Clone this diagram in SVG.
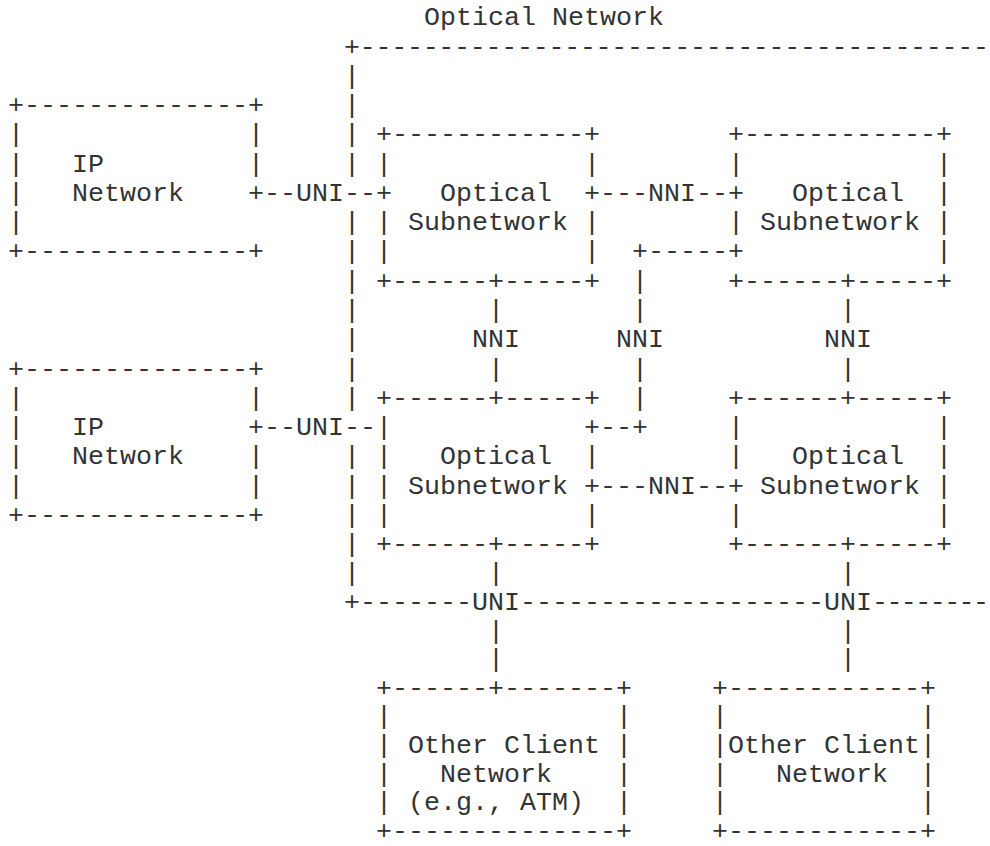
<svg xmlns="http://www.w3.org/2000/svg" width="990" height="846" viewBox="0 0 990 846" xml:space="preserve">
<style>
text { font-family: "Liberation Mono", "Courier New", monospace; font-size: 26.667px; fill: #333; white-space: pre; }
</style>
<rect x="0" y="0" width="990" height="846" fill="#fff"/>
<g id="optical-network">
<text x="424" y="25.4">Optical Network</text>
<text x="344" y="54.66" textLength="645" lengthAdjust="spacing">+----------------------------------------</text>
<text x="344" y="83.92">|</text>
<text x="344" y="113.18">|</text>
<text x="344" y="142.44">|</text>
<text x="344" y="171.7">|</text>
<text x="344" y="230.22">|</text>
<text x="344" y="259.48">|</text>
<text x="344" y="288.74">|</text>
<text x="344" y="318">|</text>
<text x="344" y="347.26">|</text>
<text x="344" y="376.52">|</text>
<text x="344" y="405.78">|</text>
<text x="344" y="464.3">|</text>
<text x="344" y="493.56">|</text>
<text x="344" y="522.82">|</text>
<text x="344" y="552.08">|</text>
<text x="344" y="581.34">|</text>
<text x="344" y="609.9">+-------</text>
<text x="520" y="609.9">-------------------</text>
<text x="872" y="609.9" textLength="117" lengthAdjust="spacing">--------</text>
</g>
<g id="ip-network-1">
<text x="8" y="113.18">+--------------+</text>
<text x="8" y="142.44">|              |</text>
<text x="8" y="171.7">|   IP         |</text>
<text x="8" y="200.96">|   Network    +</text>
<text x="8" y="230.22">|</text>
<text x="8" y="259.48">+--------------+</text>
</g>
<g id="ip-network-2">
<text x="8" y="376.52">+--------------+</text>
<text x="8" y="405.78">|              |</text>
<text x="8" y="435.04">|   IP         +</text>
<text x="8" y="464.3">|   Network    |</text>
<text x="8" y="493.56">|              |</text>
<text x="8" y="522.82">+--------------+</text>
</g>
<g id="optical-subnetwork-1">
<text x="376" y="142.44">+------------+</text>
<text x="376" y="171.7">|            |</text>
<text x="376" y="200.96">+   Optical  +</text>
<text x="376" y="230.22">| Subnetwork |</text>
<text x="376" y="259.48">|            |</text>
<text x="376" y="288.74">+------+-----+</text>
</g>
<g id="optical-subnetwork-2">
<text x="728" y="142.44">+------------+</text>
<text x="728" y="171.7">|            |</text>
<text x="728" y="200.96">+   Optical  |</text>
<text x="728" y="230.22">| Subnetwork |</text>
<text x="728" y="259.48">+            |</text>
<text x="728" y="288.74">+------+-----+</text>
</g>
<g id="optical-subnetwork-3">
<text x="376" y="405.78">+------+-----+</text>
<text x="376" y="435.04">|            +</text>
<text x="376" y="464.3">|   Optical  |</text>
<text x="376" y="493.56">| Subnetwork +</text>
<text x="376" y="522.82">|            |</text>
<text x="376" y="552.08">+------+-----+</text>
</g>
<g id="optical-subnetwork-4">
<text x="728" y="405.78">+------+-----+</text>
<text x="728" y="435.04">|            |</text>
<text x="728" y="464.3">|   Optical  |</text>
<text x="728" y="493.56">+ Subnetwork |</text>
<text x="728" y="522.82">|            |</text>
<text x="728" y="552.08">+------+-----+</text>
</g>
<g id="other-client-network-1">
<text x="376" y="695.7">+------+-------+</text>
<text x="376" y="724.3">|              |</text>
<text x="376" y="752.9">| Other Client |</text>
<text x="376" y="781.5">|   Network    |</text>
<text x="376" y="810.1">| (e.g., ATM)  |</text>
<text x="376" y="838.7">+--------------+</text>
</g>
<g id="other-client-network-2">
<text x="712" y="695.7">+------------+</text>
<text x="712" y="724.3">|            |</text>
<text x="712" y="752.9">|Other Client|</text>
<text x="712" y="781.5">|   Network  |</text>
<text x="712" y="810.1">|            |</text>
<text x="712" y="838.7">+------------+</text>
</g>
<g id="connectors">
<text x="264" y="200.96">--UNI--</text>
<text x="600" y="200.96">---NNI--</text>
<text x="632" y="259.48">+-----</text>
<text x="632" y="288.74">|</text>
<text x="488" y="318">|</text>
<text x="632" y="318">|</text>
<text x="840" y="318">|</text>
<text x="472" y="347.26">NNI</text>
<text x="616" y="347.26">NNI</text>
<text x="824" y="347.26">NNI</text>
<text x="488" y="376.52">|</text>
<text x="632" y="376.52">|</text>
<text x="840" y="376.52">|</text>
<text x="632" y="405.78">|</text>
<text x="264" y="435.04">--UNI--</text>
<text x="600" y="435.04">--+</text>
<text x="600" y="493.56">---NNI--</text>
<text x="488" y="581.34">|</text>
<text x="840" y="581.34">|</text>
<text x="472" y="609.9">UNI</text>
<text x="824" y="609.9">UNI</text>
<text x="488" y="638.5">|</text>
<text x="840" y="638.5">|</text>
<text x="488" y="667.1">|</text>
<text x="840" y="667.1">|</text>
</g>
</svg>
